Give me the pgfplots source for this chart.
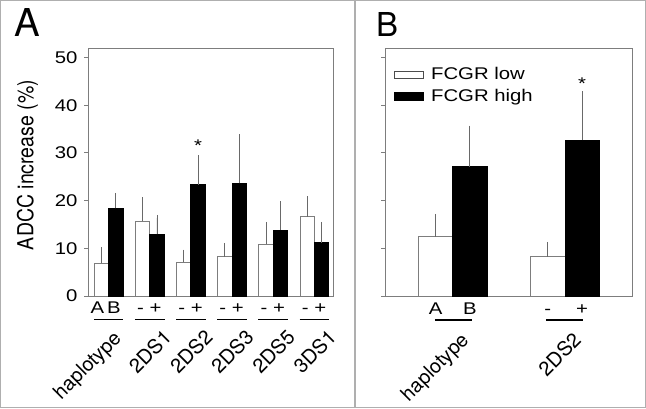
\documentclass[border=0pt]{standalone}
\usepackage{fontspec}
\setmainfont{TeX Gyre Heros}
\newfontfamily\wfont[FakeStretch=1.2]{Liberation Sans}
\usepackage{graphicx}
\usepackage{pgfplots}
\pgfplotsset{compat=1.18}
\definecolor{framegray}{RGB}{175,175,175}
\definecolor{axgray}{RGB}{125,125,125}
\definecolor{errgray}{RGB}{105,105,105}
\newcommand{\TickFont}{\wfont\fontsize{17}{19}\selectfont}
\newcommand{\HapLab}{\resizebox{86bp}{!}{haplotype}}
\newcommand{\CatLab}[1]{\resizebox{50bp}{!}{#1}}
\pgfplotsset{
  panel/.style={
    scale only axis, width=245bp, height=248bp,
    ymin=0, ymax=52, ytick={0,10,...,50}, xtick=\empty,
    tick align=outside, ytick pos=left, major tick length=4bp,
    axis line style={axgray, line width=0.9bp},
    tick style={axgray, line width=0.9bp},
    clip=false, ybar, bar shift=0pt,
    /pgf/number format/assume math mode=true,
    yticklabel style={font=\TickFont, xshift=-3bp},
  },
  wbar/.style={fill=white, draw=axgray, line width=0.9bp,
    error bars/y dir=plus, error bars/y explicit,
    error bars/error bar style={errgray, line width=0.9bp},
    error bars/error mark options={errgray, mark size=3bp, line width=0.9bp}},
  bbar/.style={fill=black, draw=black, line width=0.9bp,
    error bars/y dir=plus, error bars/y explicit,
    error bars/error bar style={errgray, line width=0.9bp},
    error bars/error mark options={errgray, mark size=3bp, line width=0.9bp}},
}
\begin{document}
\begin{tikzpicture}[x=1bp,y=1bp]
\useasboundingbox (0,0) rectangle (646,408);
\draw[framegray, line width=1.3bp] (0.65,0.65) rectangle (645.35,407.35);
\draw[framegray, line width=1.3bp] (355,0) -- (355,408);
\node[anchor=base west, inner sep=0] at (14,371.3) {\resizebox{!}{28bp}{A}};
\node[anchor=base west, inner sep=0] at (376,371.3) {\resizebox{!}{24bp}{B}};
\node[rotate=90, inner sep=0] at (27.5,243) {\resizebox{170bp}{16.5bp}{ADCC increase (\%)}};

% Panel A
\begin{axis}[panel, at={(88bp,112bp)}, anchor=south west, width=245bp,
  xmin=-0.5, xmax=5.45, bar width=0.35]
\addplot+[wbar] coordinates {
  (-0.175,6.9) +- (0,2.7)
  (0.825,15.7) +- (0,4.4)
  (1.825,7.1) +- (0,2.0)
  (2.825,8.2) +- (0,2.3)
  (3.825,10.8) +- (0,4.1)
  (4.825,16.6) +- (0,3.7)
};
\addplot+[bbar] coordinates {
  (0.175,18.4) +- (0,2.6)
  (1.175,12.9) +- (0,3.5)
  (2.175,23.3) +- (0,5.6)
  (3.175,23.6) +- (0,9.7)
  (4.175,13.8) +- (0,5.4)
  (5.175,11.2) +- (0,3.7)
};
\node[font=\TickFont, anchor=base, inner sep=0] at (axis cs:2.175,30.2) {*};
\node[font=\TickFont, anchor=base, inner sep=0] at (axis cs:-0.27,-3.77) {A};
\node[font=\TickFont, anchor=base, inner sep=0] at (axis cs:0.13,-3.77) {B};
\node[font=\TickFont, anchor=base, inner sep=0] at (axis cs:0.775,-3.77) {-};
\node[font=\TickFont, anchor=base, inner sep=0] at (axis cs:1.14,-3.77) {+};
\node[font=\TickFont, anchor=base, inner sep=0] at (axis cs:1.775,-3.77) {-};
\node[font=\TickFont, anchor=base, inner sep=0] at (axis cs:2.14,-3.77) {+};
\node[font=\TickFont, anchor=base, inner sep=0] at (axis cs:2.775,-3.77) {-};
\node[font=\TickFont, anchor=base, inner sep=0] at (axis cs:3.14,-3.77) {+};
\node[font=\TickFont, anchor=base, inner sep=0] at (axis cs:3.775,-3.77) {-};
\node[font=\TickFont, anchor=base, inner sep=0] at (axis cs:4.14,-3.77) {+};
\node[font=\TickFont, anchor=base, inner sep=0] at (axis cs:4.775,-3.77) {-};
\node[font=\TickFont, anchor=base, inner sep=0] at (axis cs:5.14,-3.77) {+};
\draw[black, line width=1.4bp] (axis cs:-0.36,-4.92) -- (axis cs:0.36,-4.92);
\draw[black, line width=1.4bp] (axis cs:0.64,-4.92) -- (axis cs:1.36,-4.92);
\draw[black, line width=1.4bp] (axis cs:1.64,-4.92) -- (axis cs:2.36,-4.92);
\draw[black, line width=1.4bp] (axis cs:2.64,-4.92) -- (axis cs:3.36,-4.92);
\draw[black, line width=1.4bp] (axis cs:3.64,-4.92) -- (axis cs:4.36,-4.92);
\draw[black, line width=1.4bp] (axis cs:4.64,-4.92) -- (axis cs:5.36,-4.92);
\node[rotate=45, anchor=north east, inner sep=0] at (axis cs:0.08,-6.9) {\HapLab};
\node[rotate=45, anchor=north east, inner sep=0] at (axis cs:1.3,-6.7) {\CatLab{2DS1}};
\node[rotate=45, anchor=north east, inner sep=0] at (axis cs:2.3,-6.7) {\CatLab{2DS2}};
\node[rotate=45, anchor=north east, inner sep=0] at (axis cs:3.3,-6.7) {\CatLab{2DS3}};
\node[rotate=45, anchor=north east, inner sep=0] at (axis cs:4.3,-6.7) {\CatLab{2DS5}};
\node[rotate=45, anchor=north east, inner sep=0] at (axis cs:5.3,-6.7) {\CatLab{3DS1}};
\end{axis}

% Panel B
\begin{axis}[panel, at={(385bp,112bp)}, anchor=south west, width=247.7bp,
  xmin=-0.603, xmax=1.603, bar width=0.305, yticklabels={},
  legend style={at={(0,1)}, anchor=north west, xshift=6bp, yshift=-16bp,
    draw=none, fill=none, font=\TickFont, row sep=5bp,
    nodes={inner sep=1bp, text height=12bp, text depth=3bp}},
  legend cell align=left]
\addplot+[wbar, legend image code/.code={\draw[fill=white, draw=black!70, line width=0.9bp] (0bp,-3.7bp) rectangle (29bp,3.7bp); \path (35bp,0bp);}] coordinates {
  (-0.1525,12.4) +- (0,4.2)
  (0.8475,8.2) +- (0,2.5)
};
\addlegendentry{FCGR low}
\addplot+[bbar, legend image code/.code={\draw[fill=black, draw=black, line width=0.9bp] (0bp,-4.2bp) rectangle (29bp,4.2bp); \path (35bp,0bp);}] coordinates {
  (0.1525,27.1) +- (0,8.0)
  (1.1525,32.7) +- (0,9.6)
};
\addlegendentry{FCGR high}
\node[font=\TickFont, anchor=base, inner sep=0] at (axis cs:1.1525,43.4) {*};
\node[font=\TickFont, anchor=base, inner sep=0] at (axis cs:-0.1525,-3.98) {A};
\node[font=\TickFont, anchor=base, inner sep=0] at (axis cs:0.1525,-3.98) {B};
\node[font=\TickFont, anchor=base, inner sep=0] at (axis cs:0.8475,-3.98) {-};
\node[font=\TickFont, anchor=base, inner sep=0] at (axis cs:1.1525,-3.98) {+};
\draw[black, line width=1.4bp] (axis cs:-0.16,-5.03) -- (axis cs:0.17,-5.03);
\draw[black, line width=1.4bp] (axis cs:0.83,-5.03) -- (axis cs:1.16,-5.03);
\node[rotate=45, anchor=north east, inner sep=0] at (axis cs:0.06,-7.3) {\HapLab};
\node[rotate=45, anchor=north east, inner sep=0] at (axis cs:1.06,-7.3) {\CatLab{2DS2}};
\end{axis}
\end{tikzpicture}
\end{document}
